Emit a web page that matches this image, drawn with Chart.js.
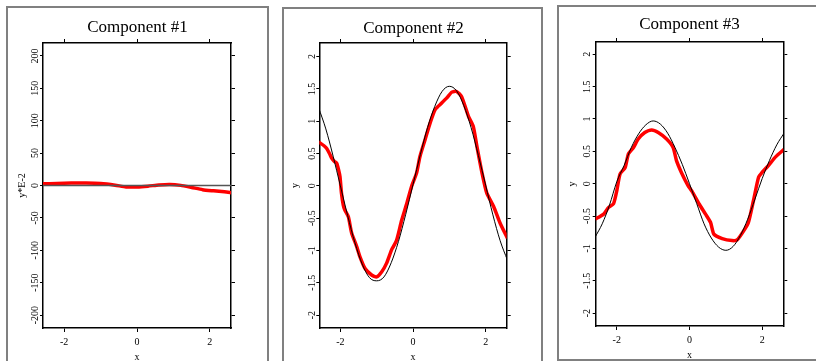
<!DOCTYPE html>
<html lang="en">
<head>
  <meta charset="UTF-8" />
  <title>Components</title>
  <script src="https://cdn.jsdelivr.net/npm/chart.js"></script>
  <style>
    html, body {
      margin: 0;
      width: 816px;
      height: 361px;
      overflow: hidden;
      background: #fff;
    }
    body { position: relative; }
    .frame {
      position: absolute;
      border: 2px solid #808080;
      box-sizing: border-box;
    }
    .plot { position: absolute; top: 0; }
    canvas { display: block; }
  </style>
</head>
<body>
  <div class="frame" style="left:6px; top:6px; width:263px; height:380px"></div>
  <div class="frame" style="left:282px; top:7px; width:261px; height:380px"></div>
  <div class="frame" style="left:557px; top:5px; width:259px; height:356px; border-right:none"></div>
  <div class="plot" style="left:0px"><canvas id="c1" width="275" height="361"></canvas></div>
  <div class="plot" style="left:276px"><canvas id="c2" width="275" height="361"></canvas></div>
  <div class="plot" style="left:553px"><canvas id="c3" width="273" height="361"></canvas></div>

  <script>
    // --- data ---
    const xGrid = [-2.6, -2.4, -2.2, -2.0, -1.8, -1.6, -1.4, -1.2, -1.0, -0.8, -0.6, -0.4, -0.2, 0,
                   0.2, 0.4, 0.6, 0.8, 1.0, 1.2, 1.4, 1.6, 1.8, 2.0, 2.2, 2.4, 2.6];

    // true components (black)
    const black1 = [0, 0, 0, 0, 0, 0, 0, 0, 0, 0, 0, 0, 0, 0, 0, 0, 0, 0, 0, 0, 0, 0, 0, 0, 0, 0, 0];
    const black2 = [1.21, 0.88, 0.46, 0.0, -0.46, -0.88, -1.21, -1.42, -1.47, -1.41, -1.19, -0.86, -0.44, 0.02,
                    0.48, 0.90, 1.23, 1.46, 1.54, 1.47, 1.24, 0.90, 0.47, 0.01, -0.45, -0.85, -1.15];
    const black3 = [-0.83, -0.62, -0.33, 0.03, 0.28, 0.56, 0.77, 0.91, 0.97, 0.92, 0.78, 0.56, 0.30, 0.0,
                    -0.31, -0.62, -0.84, -0.98, -1.03, -0.97, -0.80, -0.55, -0.24, 0.08, 0.36, 0.60, 0.78];

    // estimated components (red)
    const red1X = [-2.6, -2.2, -1.8, -1.4, -1.0, -0.6, -0.3, 0.0, 0.3, 0.6, 0.9, 1.2, 1.5, 1.8, 2.1, 2.4, 2.6];
    const red1Y = [2.5, 3.2, 3.8, 3.8, 3.0, 0.5, -2.2, -2.2, -1.0, 0.8, 1.6, 0.2, -3.0, -6.4, -8.2, -9.8, -11.2];

    const red2X = [-2.6, -2.45, -2.38, -2.3, -2.24, -2.17, -2.1, -2.05, -2.01, -1.97, -1.92, -1.88, -1.78, -1.69,
                   -1.55, -1.46, -1.32, -1.14, -1.0, -0.86, -0.73, -0.59, -0.54, -0.45, -0.31, -0.17, -0.04, 0.1,
                   0.19, 0.33, 0.47, 0.61, 0.79, 0.93, 1.07, 1.2, 1.34, 1.53, 1.66, 1.76, 1.9, 2.03, 2.22, 2.4, 2.6];
    const red2Y = [0.68, 0.62, 0.58, 0.5, 0.43, 0.38, 0.35, 0.25, 0.14, -0.11, -0.3, -0.37, -0.48, -0.73,
                   -0.94, -1.1, -1.28, -1.38, -1.41, -1.33, -1.2, -0.99, -0.94, -0.84, -0.53, -0.27, -0.01, 0.2,
                   0.45, 0.71, 0.97, 1.18, 1.28, 1.36, 1.45, 1.46, 1.38, 1.07, 0.92, 0.61, 0.2, -0.11, -0.32, -0.58, -0.81];

    const red3X = [-2.6, -2.36, -2.23, -2.09, -2.0, -1.91, -1.77, -1.68, -1.54, -1.41, -1.23, -1.04, -0.86, -0.63,
                   -0.45, -0.36, -0.22, -0.04, 0.07, 0.26, 0.44, 0.58, 0.67, 0.9, 1.17, 1.31, 1.49, 1.62, 1.76,
                   1.9, 1.99, 2.17, 2.36, 2.6];
    const red3Y = [-0.55, -0.47, -0.37, -0.31, -0.11, 0.15, 0.25, 0.46, 0.56, 0.69, 0.79, 0.83, 0.79, 0.69,
                   0.56, 0.36, 0.17, -0.03, -0.12, -0.31, -0.47, -0.6, -0.78, -0.85, -0.88, -0.87, -0.73, -0.6, -0.26,
                   0.1, 0.17, 0.28, 0.41, 0.53];

    const titles = ['Component #1', 'Component #2', 'Component #3'];
    const yTitles = ['y*E-2', 'y', 'y'];
    const xTicks = [-2, 0, 2];
    const xTickLabels = ['-2', '0', '2'];
    const yTicks1 = [-200, -150, -100, -50, 0, 50, 100, 150, 200];
    const yTickLabels1 = ['-200', '-150', '-100', '-50', '0', '50', '100', '150', '200'];
    const yTicks23 = [-2, -1.5, -1, -0.5, 0, 0.5, 1, 1.5, 2];
    const yTickLabels23 = ['-2', '-1.5', '-1', '-0.5', '0', '0.5', '1', '1.5', '2'];

    // --- drawing ---
    const serif = '"Liberation Serif", "Times New Roman", serif';

    function pts(xs, ys) {
      return xs.map((x, i) => ({ x: x, y: ys[i] }));
    }

    function fixTicks(values) {
      return scale => { scale.ticks = values.map(v => ({ value: v })); };
    }

    function drawPanel(id, p) {
      const canvas = document.getElementById(id);
      const H = canvas.height, W = canvas.width;
      const tickFont = { family: serif, size: 10 };
      const axisLine = { display: true, color: '#000', width: 1.5 };
      const noGrid = { drawOnChartArea: false, color: '#000', tickColor: '#000', tickLength: 4 };

      new Chart(canvas, {
        type: 'line',
        data: {
          datasets: [
            { data: pts(xGrid, p.black), borderColor: p.blackColor, borderWidth: p.blackWidth,
              pointRadius: 0, cubicInterpolationMode: 'monotone', xAxisID: 'x', yAxisID: 'y' },
            { data: pts(p.redX, p.redY), borderColor: '#ff0000', borderWidth: 3.5,
              pointRadius: 0, tension: 0.2, xAxisID: 'x', yAxisID: 'y' }
          ]
        },
        options: {
          responsive: false,
          animation: false,
          devicePixelRatio: 1,
          layout: { padding: 0, autoPadding: false },
          plugins: {
            legend: { display: false },
            tooltip: { enabled: false },
            title: {
              display: true, text: p.title, color: '#000',
              font: { family: serif, size: 17, weight: 'normal' },
              padding: { top: p.titleY - 10.2, bottom: 0 }
            }
          },
          scales: {
            x: {
              type: 'linear', position: 'bottom', min: -2.58, max: 2.58,
              afterBuildTicks: fixTicks(xTicks),
              afterFit: s => { s.height = H - p.bottom; },
              grid: noGrid, border: axisLine,
              ticks: { font: tickFont, color: '#000', padding: p.xLabelY - p.bottom - 10,
                       callback: (v, i) => xTickLabels[i] },
              title: { display: true, text: 'x', color: '#000', font: tickFont,
                       padding: { top: 0, bottom: H - 6 - p.xTitleY } }
            },
            x2: {
              type: 'linear', position: 'top', min: -2.58, max: 2.58,
              afterBuildTicks: fixTicks(xTicks),
              afterFit: s => { s.height = p.top - (p.titleY + 10.2); },
              grid: noGrid, border: axisLine,
              ticks: { display: false }
            },
            y: {
              type: 'linear', position: 'left', min: p.yMin, max: p.yMax,
              afterBuildTicks: fixTicks(p.yTicks),
              afterFit: s => { s.width = p.left; },
              grid: Object.assign({}, noGrid, { tickLength: 3 }), border: axisLine,
              ticks: { font: tickFont, color: '#000', minRotation: 90, maxRotation: 90,
                       crossAlign: 'center', padding: p.yPad,
                       callback: (v, i) => p.yLabels[i] },
              title: { display: true, text: p.yTitle, color: '#000', font: tickFont,
                       padding: { top: p.yTitleX - 6, bottom: 0 } }
            },
            y2: {
              type: 'linear', position: 'right', min: p.yMin, max: p.yMax,
              afterBuildTicks: fixTicks(p.yTicks),
              afterFit: s => { s.width = W - p.right; },
              grid: noGrid, border: axisLine,
              ticks: { display: false }
            }
          }
        }
      });
    }

    drawPanel('c1', {
      title: titles[0], yTitle: yTitles[0], black: black1, blackColor: '#555', blackWidth: 1.5,
      redX: red1X, redY: red1Y, yTicks: yTicks1, yLabels: yTickLabels1, yMin: -220, yMax: 220,
      left: 43, right: 231, top: 43, bottom: 328, titleY: 28, xLabelY: 342, xTitleY: 357,
      yTitleX: 22, yPad: -4.2
    });
    drawPanel('c2', {
      title: titles[1], yTitle: yTitles[1], black: black2, blackColor: '#000', blackWidth: 1,
      redX: red2X, redY: red2Y, yTicks: yTicks23, yLabels: yTickLabels23, yMin: -2.2, yMax: 2.21,
      left: 43.3, right: 230.7, top: 43, bottom: 328, titleY: 28.3, xLabelY: 342, xTitleY: 357,
      yTitleX: 19, yPad: -4.3
    });
    drawPanel('c3', {
      title: titles[2], yTitle: yTitles[2], black: black3, blackColor: '#000', blackWidth: 1,
      redX: red3X, redY: red3Y, yTicks: yTicks23, yLabels: yTickLabels23, yMin: -2.2, yMax: 2.19,
      left: 42.7, right: 230.3, top: 42, bottom: 326, titleY: 25, xLabelY: 340, xTitleY: 355,
      yTitleX: 19.3, yPad: -2.5
    });
  </script>
</body>
</html>
